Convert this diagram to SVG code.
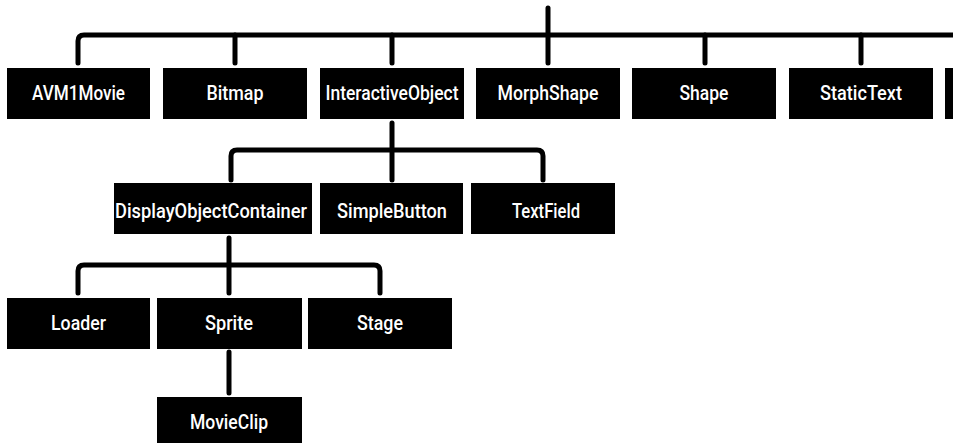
<svg xmlns="http://www.w3.org/2000/svg" width="953" height="443" viewBox="0 0 953 443">
<style>
.box{fill:#000}
.lbl{fill:#fff;font-family:"Roboto","Liberation Sans",sans-serif;font-weight:500;font-size:20.5px;text-anchor:middle}
.con{fill:none;stroke:#000;stroke-width:5;stroke-linecap:round;stroke-linejoin:round}
</style>
<rect width="953" height="443" fill="#fff"/>
<g id="connectors" class="con">
<path d="M548,8 V63"/>
<path d="M78,63 V41 Q78,35 84,35 H960"/>
<path d="M235,35 V63"/>
<path d="M392,35 V63"/>
<path d="M705,35 V63"/>
<path d="M861,35 V63"/>
<path d="M392,123 V180"/>
<path d="M231,180 V156 Q231,150 237,150 H537 Q543,150 543,156 V180"/>
<path d="M229,238 V293"/>
<path d="M78,293 V271 Q78,265 84,265 H374 Q380,265 380,271 V293"/>
<path d="M229,352 V393"/>
</g>
<g id="AVM1Movie"><rect class="box" x="7" y="68" width="143" height="51"/><text class="lbl" x="78.5" y="100" textLength="93" lengthAdjust="spacingAndGlyphs">AVM1Movie</text></g>
<g id="Bitmap"><rect class="box" x="163" y="68" width="144" height="51"/><text class="lbl" x="235" y="100" textLength="57" lengthAdjust="spacingAndGlyphs">Bitmap</text></g>
<g id="InteractiveObject"><rect class="box" x="320" y="68" width="144" height="51"/><text class="lbl" x="392" y="100" textLength="133" lengthAdjust="spacingAndGlyphs">InteractiveObject</text></g>
<g id="MorphShape"><rect class="box" x="476" y="68" width="144" height="51"/><text class="lbl" x="548" y="100" textLength="101" lengthAdjust="spacingAndGlyphs">MorphShape</text></g>
<g id="Shape"><rect class="box" x="632" y="68" width="144" height="51"/><text class="lbl" x="704" y="100" textLength="49" lengthAdjust="spacingAndGlyphs">Shape</text></g>
<g id="StaticText"><rect class="box" x="789" y="68" width="144" height="51"/><text class="lbl" x="861" y="100" textLength="82" lengthAdjust="spacingAndGlyphs">StaticText</text></g>
<g id="Video"><rect class="box" x="945" y="68" width="144" height="51"/></g>
<g id="DisplayObjectContainer"><rect class="box" x="114" y="183" width="198" height="51"/><text class="lbl" x="211" y="218" textLength="192" lengthAdjust="spacingAndGlyphs">DisplayObjectContainer</text></g>
<g id="SimpleButton"><rect class="box" x="320" y="183" width="143" height="51"/><text class="lbl" x="392" y="218" textLength="110" lengthAdjust="spacingAndGlyphs">SimpleButton</text></g>
<g id="TextField"><rect class="box" x="471" y="183" width="144" height="51"/><text class="lbl" x="546" y="218" textLength="68" lengthAdjust="spacingAndGlyphs">TextField</text></g>
<g id="Loader"><rect class="box" x="7" y="298" width="143" height="51"/><text class="lbl" x="78.5" y="330" textLength="55" lengthAdjust="spacingAndGlyphs">Loader</text></g>
<g id="Sprite"><rect class="box" x="157" y="298" width="145" height="51"/><text class="lbl" x="229" y="330" textLength="48" lengthAdjust="spacingAndGlyphs">Sprite</text></g>
<g id="Stage"><rect class="box" x="308" y="298" width="144" height="51"/><text class="lbl" x="380" y="330" textLength="46" lengthAdjust="spacingAndGlyphs">Stage</text></g>
<g id="MovieClip"><rect class="box" x="157" y="397" width="145" height="51"/><text class="lbl" x="229" y="429" textLength="78" lengthAdjust="spacingAndGlyphs">MovieClip</text></g>
</svg>
